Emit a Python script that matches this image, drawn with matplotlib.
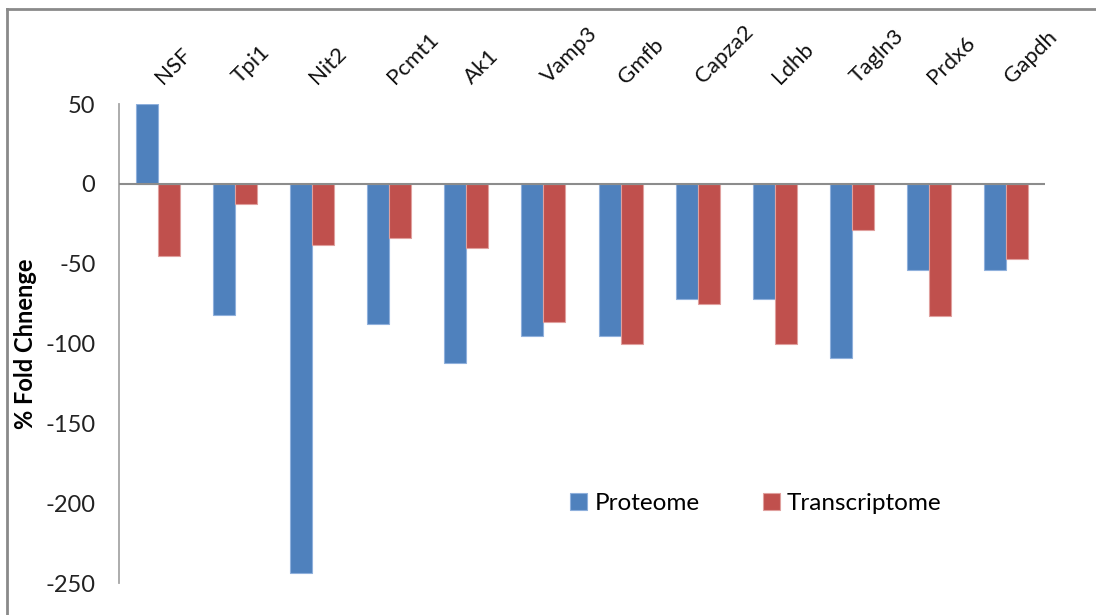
import matplotlib

matplotlib.use("Agg")

import matplotlib.pyplot as plt
import matplotlib.transforms as mtransforms
import numpy as np
from matplotlib.lines import Line2D

plt.rcParams["font.family"] = ["Lato", "DejaVu Sans"]

genes = ["NSF", "Tpi1", "Nit2", "Pcmt1", "Ak1", "Vamp3", "Gmfb",
         "Capza2", "Ldhb", "Tagln3", "Prdx6", "Gapdh"]
proteome = [50, -82, -244, -88, -112, -95, -95, -72, -72, -109, -54, -54]
transcriptome = [-45, -12.5, -38, -34, -40, -86.5, -100, -75, -100, -29, -82.5, -47]
y_ticks = [50, 0, -50, -100, -150, -200, -250]

COLOR_PROT = "#4f81bd"
COLOR_TRANS = "#c0504d"
GRID_GRAY = "#a6a6a6"

fig = plt.figure(figsize=(10.96, 6.15), dpi=100)
ax = fig.add_axes([119 / 1096, 1 - 583 / 615, (1045 - 119) / 1096, (583 - 104) / 615])

x = np.arange(len(genes))
w = 0.285
ax.bar(x - w / 2, proteome, width=w, color=COLOR_PROT, edgecolor="#8fb0dc",
       linewidth=0.8, label="Proteome")
ax.bar(x + w / 2, transcriptome, width=w, color=COLOR_TRANS, edgecolor="#e0a09e",
       linewidth=0.8, label="Transcriptome")

ax.axhline(0, color="#8c8c8c", linewidth=1.5, zorder=3)
ax.set_xlim(-0.5, len(genes) - 0.5)
ax.set_ylim(-250, 50)
ax.set_yticks(y_ticks)
ax.set_yticklabels([str(v) for v in y_ticks], fontsize=17, color="#222222")
ax.tick_params(axis="y", length=0, pad=17)

ax.xaxis.tick_top()
ax.set_xticks(x)
ax.set_xticklabels(genes, rotation=45, ha="left", va="bottom",
                   rotation_mode="anchor", fontsize=16, color="#111111")
ax.tick_params(axis="x", length=0, pad=12)
shift = mtransforms.ScaledTranslation(6 / 72, 0, fig.dpi_scale_trans)
for lab in ax.get_xticklabels():
    lab.set_transform(lab.get_transform() + shift)

for side in ["top", "right", "bottom"]:
    ax.spines[side].set_visible(False)
ax.spines["left"].set_color(GRID_GRAY)
ax.spines["left"].set_linewidth(1.3)

ax.set_ylabel("% Fold Chnenge", fontsize=17, fontweight="bold", labelpad=6)

ax.legend(loc="center left", bbox_to_anchor=(0.487, 0.167), ncol=2, frameon=False,
          fontsize=17.5, handlelength=0.7, handleheight=0.7, handletextpad=0.3,
          columnspacing=2.6, borderpad=0, borderaxespad=0)

# partial outer frame (top and left edges visible)
fig.add_artist(Line2D([7 / 1096, 7 / 1096], [0, 1 - 9 / 615],
                      transform=fig.transFigure, color="#8a8a8a", linewidth=2))
fig.add_artist(Line2D([7 / 1096, 1], [1 - 9 / 615, 1 - 9 / 615],
                      transform=fig.transFigure, color="#8a8a8a", linewidth=2))

fig.savefig("out.png", dpi=100)
